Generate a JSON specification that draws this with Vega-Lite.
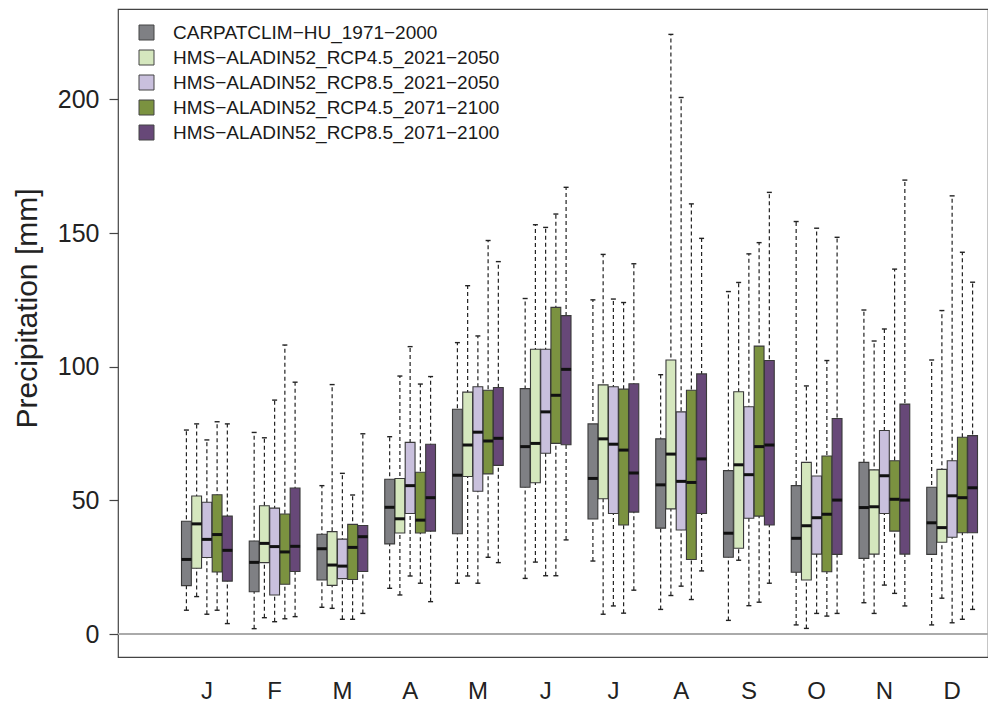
{
  "$schema": "https://vega.github.io/schema/vega-lite/v6.json",
  "width": 870,
  "height": 648,
  "autosize": {"type": "none"},
  "padding": {"left": 118, "top": 9, "right": 0, "bottom": 45},
  "background": "white",
  "config": {
    "font": "Liberation Sans",
    "view": {"stroke": "#444444", "strokeWidth": 1.2},
    "axisY": {"domain": false, "grid": false, "tickSize": 9, "tickColor": "#444444", "tickWidth": 1.2, "labelFontSize": 25, "labelColor": "#222222", "labelPadding": 10, "titleFontSize": 30, "titleFontWeight": "normal", "titleColor": "#222222", "titleX": -82, "titleY": 299, "titleBaseline": "alphabetic", "titleAngle": -90},
    "axisX": {"domain": false, "ticks": false, "grid": false, "labelFontSize": 24, "labelColor": "#222222", "labelPadding": 22, "labelAngle": 0}
  },
  "data": {"values": [
    {"m":"Jan","s":"CARPATCLIM−HU_1971−2000","lo":8.9,"q1":18.1,"md":27.9,"q3":42.2,"hi":76.3},
    {"m":"Jan","s":"HMS−ALADIN52_RCP4.5_2021−2050","lo":14.0,"q1":24.6,"md":41.2,"q3":51.6,"hi":78.6},
    {"m":"Jan","s":"HMS−ALADIN52_RCP8.5_2021−2050","lo":7.4,"q1":28.6,"md":35.4,"q3":49.3,"hi":72.6},
    {"m":"Jan","s":"HMS−ALADIN52_RCP4.5_2071−2100","lo":8.9,"q1":23.2,"md":37.2,"q3":52.1,"hi":79.4},
    {"m":"Jan","s":"HMS−ALADIN52_RCP8.5_2071−2100","lo":3.9,"q1":19.8,"md":31.3,"q3":44.1,"hi":78.6},
    {"m":"Feb","s":"CARPATCLIM−HU_1971−2000","lo":2.0,"q1":15.8,"md":26.8,"q3":34.8,"hi":75.4},
    {"m":"Feb","s":"HMS−ALADIN52_RCP4.5_2021−2050","lo":6.1,"q1":26.7,"md":33.9,"q3":48.0,"hi":73.4},
    {"m":"Feb","s":"HMS−ALADIN52_RCP8.5_2021−2050","lo":4.6,"q1":14.6,"md":32.7,"q3":47.1,"hi":87.5},
    {"m":"Feb","s":"HMS−ALADIN52_RCP4.5_2071−2100","lo":5.7,"q1":18.6,"md":30.7,"q3":44.9,"hi":108.1},
    {"m":"Feb","s":"HMS−ALADIN52_RCP8.5_2071−2100","lo":6.5,"q1":23.4,"md":32.8,"q3":54.6,"hi":94.2},
    {"m":"Mar","s":"CARPATCLIM−HU_1971−2000","lo":10.0,"q1":20.2,"md":31.9,"q3":37.3,"hi":55.5},
    {"m":"Mar","s":"HMS−ALADIN52_RCP4.5_2021−2050","lo":9.6,"q1":18.2,"md":25.8,"q3":38.3,"hi":93.3},
    {"m":"Mar","s":"HMS−ALADIN52_RCP8.5_2021−2050","lo":5.5,"q1":20.7,"md":25.4,"q3":35.5,"hi":60.1},
    {"m":"Mar","s":"HMS−ALADIN52_RCP4.5_2071−2100","lo":5.5,"q1":20.4,"md":32.4,"q3":41.0,"hi":52.0},
    {"m":"Mar","s":"HMS−ALADIN52_RCP8.5_2071−2100","lo":7.7,"q1":23.4,"md":36.4,"q3":40.6,"hi":74.9},
    {"m":"Apr","s":"CARPATCLIM−HU_1971−2000","lo":17.1,"q1":33.7,"md":47.4,"q3":57.9,"hi":73.8},
    {"m":"Apr","s":"HMS−ALADIN52_RCP4.5_2021−2050","lo":14.6,"q1":37.8,"md":43.1,"q3":58.2,"hi":96.5},
    {"m":"Apr","s":"HMS−ALADIN52_RCP8.5_2021−2050","lo":21.7,"q1":45.1,"md":55.5,"q3":71.7,"hi":107.5},
    {"m":"Apr","s":"HMS−ALADIN52_RCP4.5_2071−2100","lo":19.0,"q1":37.8,"md":42.6,"q3":60.5,"hi":93.5},
    {"m":"Apr","s":"HMS−ALADIN52_RCP8.5_2071−2100","lo":12.1,"q1":38.5,"md":51.0,"q3":71.0,"hi":96.3},
    {"m":"May","s":"CARPATCLIM−HU_1971−2000","lo":19.0,"q1":37.5,"md":59.4,"q3":84.1,"hi":109.0},
    {"m":"May","s":"HMS−ALADIN52_RCP4.5_2021−2050","lo":21.7,"q1":58.9,"md":70.7,"q3":90.5,"hi":130.3},
    {"m":"May","s":"HMS−ALADIN52_RCP8.5_2021−2050","lo":19.0,"q1":53.4,"md":75.5,"q3":92.5,"hi":111.5},
    {"m":"May","s":"HMS−ALADIN52_RCP4.5_2071−2100","lo":28.7,"q1":59.9,"md":72.2,"q3":91.2,"hi":147.2},
    {"m":"May","s":"HMS−ALADIN52_RCP8.5_2071−2100","lo":26.7,"q1":63.1,"md":73.2,"q3":92.2,"hi":139.3},
    {"m":"Jun","s":"CARPATCLIM−HU_1971−2000","lo":20.8,"q1":54.9,"md":70.1,"q3":91.8,"hi":125.5},
    {"m":"Jun","s":"HMS−ALADIN52_RCP4.5_2021−2050","lo":26.9,"q1":56.6,"md":71.3,"q3":106.5,"hi":153.1},
    {"m":"Jun","s":"HMS−ALADIN52_RCP8.5_2021−2050","lo":21.8,"q1":67.6,"md":83.1,"q3":106.5,"hi":152.1},
    {"m":"Jun","s":"HMS−ALADIN52_RCP4.5_2071−2100","lo":21.8,"q1":71.3,"md":89.3,"q3":122.2,"hi":157.1},
    {"m":"Jun","s":"HMS−ALADIN52_RCP8.5_2071−2100","lo":35.2,"q1":70.8,"md":99.0,"q3":119.1,"hi":167.1},
    {"m":"Jul","s":"CARPATCLIM−HU_1971−2000","lo":27.3,"q1":43.0,"md":58.2,"q3":78.6,"hi":125.0},
    {"m":"Jul","s":"HMS−ALADIN52_RCP4.5_2021−2050","lo":7.4,"q1":50.6,"md":73.0,"q3":93.2,"hi":142.0},
    {"m":"Jul","s":"HMS−ALADIN52_RCP8.5_2021−2050","lo":10.5,"q1":45.1,"md":71.0,"q3":92.5,"hi":125.3},
    {"m":"Jul","s":"HMS−ALADIN52_RCP4.5_2071−2100","lo":7.8,"q1":40.8,"md":68.8,"q3":91.6,"hi":124.0},
    {"m":"Jul","s":"HMS−ALADIN52_RCP8.5_2071−2100","lo":16.4,"q1":45.6,"md":60.2,"q3":93.6,"hi":138.5},
    {"m":"Aug","s":"CARPATCLIM−HU_1971−2000","lo":9.2,"q1":39.6,"md":55.8,"q3":73.0,"hi":97.0},
    {"m":"Aug","s":"HMS−ALADIN52_RCP4.5_2021−2050","lo":14.4,"q1":46.8,"md":67.3,"q3":102.5,"hi":224.3},
    {"m":"Aug","s":"HMS−ALADIN52_RCP8.5_2021−2050","lo":17.9,"q1":38.9,"md":57.1,"q3":83.1,"hi":200.7},
    {"m":"Aug","s":"HMS−ALADIN52_RCP4.5_2071−2100","lo":12.9,"q1":27.9,"md":56.7,"q3":91.2,"hi":160.9},
    {"m":"Aug","s":"HMS−ALADIN52_RCP8.5_2071−2100","lo":23.6,"q1":45.1,"md":65.5,"q3":97.3,"hi":148.0},
    {"m":"Sep","s":"CARPATCLIM−HU_1971−2000","lo":5.1,"q1":28.7,"md":37.7,"q3":61.1,"hi":128.1},
    {"m":"Sep","s":"HMS−ALADIN52_RCP4.5_2021−2050","lo":27.6,"q1":32.1,"md":63.3,"q3":90.6,"hi":131.5},
    {"m":"Sep","s":"HMS−ALADIN52_RCP8.5_2021−2050","lo":10.6,"q1":43.3,"md":59.6,"q3":85.0,"hi":142.2},
    {"m":"Sep","s":"HMS−ALADIN52_RCP4.5_2071−2100","lo":11.9,"q1":44.1,"md":70.1,"q3":107.7,"hi":146.4},
    {"m":"Sep","s":"HMS−ALADIN52_RCP8.5_2071−2100","lo":19.0,"q1":40.8,"md":70.7,"q3":102.3,"hi":165.2},
    {"m":"Oct","s":"CARPATCLIM−HU_1971−2000","lo":3.4,"q1":23.1,"md":35.8,"q3":55.5,"hi":154.3},
    {"m":"Oct","s":"HMS−ALADIN52_RCP4.5_2021−2050","lo":2.1,"q1":20.2,"md":40.5,"q3":64.2,"hi":92.8},
    {"m":"Oct","s":"HMS−ALADIN52_RCP8.5_2021−2050","lo":7.7,"q1":29.9,"md":43.5,"q3":59.1,"hi":151.8},
    {"m":"Oct","s":"HMS−ALADIN52_RCP4.5_2071−2100","lo":6.7,"q1":23.3,"md":44.8,"q3":66.6,"hi":102.3},
    {"m":"Oct","s":"HMS−ALADIN52_RCP8.5_2071−2100","lo":7.7,"q1":29.8,"md":50.1,"q3":80.6,"hi":148.4},
    {"m":"Nov","s":"CARPATCLIM−HU_1971−2000","lo":11.7,"q1":28.3,"md":47.3,"q3":64.2,"hi":121.2},
    {"m":"Nov","s":"HMS−ALADIN52_RCP4.5_2021−2050","lo":7.7,"q1":29.9,"md":47.6,"q3":61.4,"hi":109.6},
    {"m":"Nov","s":"HMS−ALADIN52_RCP8.5_2021−2050","lo":18.3,"q1":45.1,"md":59.2,"q3":76.1,"hi":114.1},
    {"m":"Nov","s":"HMS−ALADIN52_RCP4.5_2071−2100","lo":15.2,"q1":38.5,"md":50.4,"q3":64.8,"hi":136.5},
    {"m":"Nov","s":"HMS−ALADIN52_RCP8.5_2071−2100","lo":10.5,"q1":29.9,"md":50.1,"q3":86.0,"hi":169.8},
    {"m":"Dec","s":"CARPATCLIM−HU_1971−2000","lo":3.4,"q1":29.8,"md":41.6,"q3":54.9,"hi":102.5},
    {"m":"Dec","s":"HMS−ALADIN52_RCP4.5_2021−2050","lo":13.4,"q1":34.3,"md":39.8,"q3":61.6,"hi":121.0},
    {"m":"Dec","s":"HMS−ALADIN52_RCP8.5_2021−2050","lo":4.2,"q1":36.2,"md":51.7,"q3":64.8,"hi":163.9},
    {"m":"Dec","s":"HMS−ALADIN52_RCP4.5_2071−2100","lo":5.5,"q1":37.9,"md":51.0,"q3":73.6,"hi":142.8},
    {"m":"Dec","s":"HMS−ALADIN52_RCP8.5_2071−2100","lo":9.2,"q1":37.9,"md":54.7,"q3":74.2,"hi":131.6}
  ]},
  "layer": [
    {
      "mark": {"type": "rule", "color": "#aaaaaa", "strokeWidth": 2},
      "encoding": {
        "y": {"datum": 0, "type": "quantitative", "scale": {"domain": [-8.6, 233.8], "nice": false, "zero": false}, "title": "Precipitation [mm]", "axis": {"values": [0, 50, 100, 150, 200]}}
      }
    },
    {
      "mark": {"type": "rule", "color": "#222222", "strokeWidth": 1.2, "strokeDash": [4, 3]},
      "encoding": {
        "x": {"field": "m", "type": "nominal", "sort": ["Jan","Feb","Mar","Apr","May","Jun","Jul","Aug","Sep","Oct","Nov","Dec"], "scale": {"range": [55, 868], "paddingInner": 0, "paddingOuter": 0}, "title": null, "axis": {"labelExpr": "substring(datum.value, 0, 1)"}},
        "xOffset": {"field": "s", "type": "nominal", "sort": ["CARPATCLIM−HU_1971−2000","HMS−ALADIN52_RCP4.5_2021−2050","HMS−ALADIN52_RCP8.5_2021−2050","HMS−ALADIN52_RCP4.5_2071−2100","HMS−ALADIN52_RCP8.5_2071−2100"], "scale": {"paddingInner": 0.04, "paddingOuter": 0.83}},
        "y": {"field": "lo", "type": "quantitative", "title": "Precipitation [mm]"},
        "y2": {"field": "hi"}
      }
    },
    {
      "mark": {"type": "tick", "color": "#222222", "size": 5, "thickness": 1.4, "opacity": 1},
      "encoding": {
        "x": {"field": "m", "type": "nominal", "sort": ["Jan","Feb","Mar","Apr","May","Jun","Jul","Aug","Sep","Oct","Nov","Dec"], "title": null},
        "xOffset": {"field": "s", "type": "nominal", "sort": ["CARPATCLIM−HU_1971−2000","HMS−ALADIN52_RCP4.5_2021−2050","HMS−ALADIN52_RCP8.5_2021−2050","HMS−ALADIN52_RCP4.5_2071−2100","HMS−ALADIN52_RCP8.5_2071−2100"]},
        "y": {"field": "lo", "type": "quantitative", "title": "Precipitation [mm]"}
      }
    },
    {
      "mark": {"type": "tick", "color": "#222222", "size": 5, "thickness": 1.4, "opacity": 1},
      "encoding": {
        "x": {"field": "m", "type": "nominal", "sort": ["Jan","Feb","Mar","Apr","May","Jun","Jul","Aug","Sep","Oct","Nov","Dec"], "title": null},
        "xOffset": {"field": "s", "type": "nominal", "sort": ["CARPATCLIM−HU_1971−2000","HMS−ALADIN52_RCP4.5_2021−2050","HMS−ALADIN52_RCP8.5_2021−2050","HMS−ALADIN52_RCP4.5_2071−2100","HMS−ALADIN52_RCP8.5_2071−2100"]},
        "y": {"field": "hi", "type": "quantitative", "title": "Precipitation [mm]"}
      }
    },
    {
      "mark": {"type": "bar", "stroke": "#3a3a3a", "strokeWidth": 1.1, "opacity": 1},
      "encoding": {
        "x": {"field": "m", "type": "nominal", "sort": ["Jan","Feb","Mar","Apr","May","Jun","Jul","Aug","Sep","Oct","Nov","Dec"], "title": null},
        "xOffset": {"field": "s", "type": "nominal", "sort": ["CARPATCLIM−HU_1971−2000","HMS−ALADIN52_RCP4.5_2021−2050","HMS−ALADIN52_RCP8.5_2021−2050","HMS−ALADIN52_RCP4.5_2071−2100","HMS−ALADIN52_RCP8.5_2071−2100"]},
        "y": {"field": "q1", "type": "quantitative", "title": "Precipitation [mm]"},
        "y2": {"field": "q3"},
        "color": {
          "field": "s", "type": "nominal",
          "scale": {"domain": ["CARPATCLIM−HU_1971−2000","HMS−ALADIN52_RCP4.5_2021−2050","HMS−ALADIN52_RCP8.5_2021−2050","HMS−ALADIN52_RCP4.5_2071−2100","HMS−ALADIN52_RCP8.5_2071−2100"], "range": ["#7f8084", "#d5e7be", "#c9c0dd", "#7b9240", "#674878"]},
          "legend": {"orient": "none", "legendX": 19, "legendY": 14, "title": null, "direction": "vertical", "symbolType": "square", "symbolSize": 225, "symbolStrokeColor": "#444444", "symbolStrokeWidth": 1, "symbolOpacity": 1, "labelFontSize": 19, "labelColor": "#1a1a1a", "labelOffset": 17, "rowPadding": 5, "padding": 0, "labelLimit": 600}
        }
      }
    },
    {
      "mark": {"type": "tick", "color": "#111111", "size": 10, "thickness": 3, "opacity": 1},
      "encoding": {
        "x": {"field": "m", "type": "nominal", "sort": ["Jan","Feb","Mar","Apr","May","Jun","Jul","Aug","Sep","Oct","Nov","Dec"], "title": null},
        "xOffset": {"field": "s", "type": "nominal", "sort": ["CARPATCLIM−HU_1971−2000","HMS−ALADIN52_RCP4.5_2021−2050","HMS−ALADIN52_RCP8.5_2021−2050","HMS−ALADIN52_RCP4.5_2071−2100","HMS−ALADIN52_RCP8.5_2071−2100"]},
        "y": {"field": "md", "type": "quantitative", "title": "Precipitation [mm]"}
      }
    }
  ]
}
